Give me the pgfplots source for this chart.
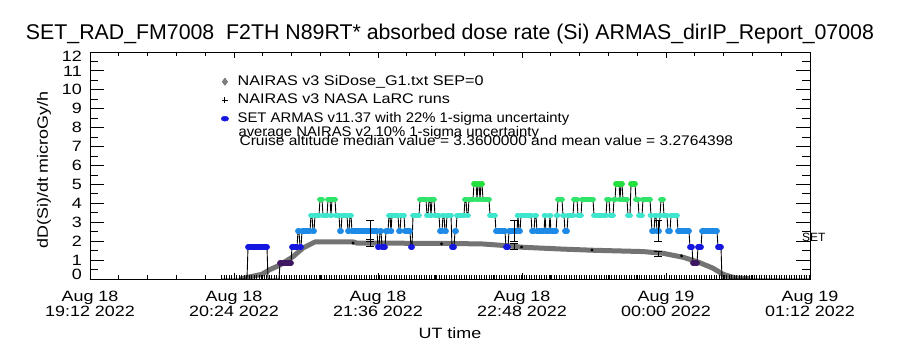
\documentclass[border=0pt]{standalone}
\usepackage{fontspec}
\setmainfont{Liberation Sans}
\newfontfamily\wide{Liberation Sans}[FakeStretch=1.2]
\newfontfamily\legA{Liberation Sans}[FakeStretch=1.16]
\newfontfamily\legB{Liberation Sans}[FakeStretch=1.065]
\newfontfamily\legC{Liberation Sans}[FakeStretch=1.115]
\usepackage{pgfplots}
\pgfplotsset{compat=1.18}
\definecolor{cpurple}{RGB}{62,24,96}
\definecolor{cblue}{RGB}{22,22,225}
\definecolor{clblue}{RGB}{30,138,232}
\definecolor{ccyan}{RGB}{62,230,205}
\definecolor{cgreen}{RGB}{48,228,105}
\definecolor{cgreenb}{RGB}{36,224,62}
\pgfplotsset{
  base/.style={scale only axis, width=720bp, height=227bp, at={(90bp,71bp)}, anchor=south west,
    xmin=0, xmax=360, ymin=0, ymax=12, axis line style={line width=0.9bp, black},
    every tick/.style={black, line width=0.9bp}, unbounded coords=jump},
  blob/.style={forget plot, line width=5.8bp, line cap=round},
}
\begin{document}
\begin{tikzpicture}
\useasboundingbox (0,0) rectangle (900bp,350bp);
\begin{axis}[base, clip mode=individual,
  xtick=\empty,
  ytick={0,1,2,3,4,5,6,7,8,9,10,11,12},
  yticklabels={\raisebox{5bp}[\height][\depth]{0},1,2,3,4,5,6,7,8,9,10,11,\raisebox{-4.7bp}[\height][\depth]{12}},
  minor y tick num=1, major tick length=14bp, minor tick length=8bp,
  yticklabel style={font=\fontsize{15}{15}\wide, inner sep=0pt, xshift=-8bp},
  ylabel={dD(Si)/dt microGy/h},
  ylabel style={at={(axis description cs:-0.0639,0.48)}, anchor=center, font=\fontsize{15}{15}\wide, inner sep=0pt},
  title={SET\_RAD\_FM7008\ \ F2TH N89RT* absorbed dose rate (Si) ARMAS\_dirIP\_Report\_07008},
  title style={at={(0.5,1)}, anchor=base, yshift=7bp, font=\fontsize{21.4}{24}\selectfont, inner sep=0pt},
  legend image code/.code={\draw[#1] plot coordinates {(0bp,0bp)};},
  legend cell align=left,
  legend style={at={(axis description cs:0.1819,0.9009)}, anchor=north west, draw=none, fill=none,
    font=\fontsize{14}{14}\selectfont, inner sep=0pt, column sep=9bp, row sep=4.5bp,
    nodes={inner sep=0pt, text height=10.5bp, text depth=3.5bp}},
]
\addlegendimage{only marks, mark=diamond*, mark size=3.6bp, draw=black!60, fill=black!50, line width=0.4bp}
\addlegendentry{\legA NAIRAS v3 SiDose\_G1.txt SEP=0}
\addlegendimage{only marks, mark=+, mark size=3bp, black, line width=0.9bp}
\addlegendentry{\legA NAIRAS v3 NASA LaRC runs}
\addlegendimage{only marks, mark=*, mark size=2.5bp, mark options={xscale=1.5}, cblue}
\addlegendentry{\legB SET ARMAS v11.37 with 22\% 1-sigma uncertainty}

% NAIRAS v3 SiDose
\addplot[forget plot, black!55, line width=5bp, line join=round] coordinates {
(75,0)(86,0.25)(90,0.5)(95,0.74)(101.5,1.18)(106.5,1.64)(112.5,1.96)(131.5,1.96)(133.5,1.9)
(180,1.88)(196.5,1.85)(208.5,1.76)(216,1.68)(236.5,1.58)(251.5,1.52)(276.5,1.45)(286.5,1.36)
(296.5,1.15)(303.5,0.92)(311.5,0.57)(316.5,0.25)(322.5,0.06)(330,0.02)};

% SET ARMAS connecting line
\addplot[forget plot, black, line width=0.9bp] table {
65.5 0
78.5 0
79 1.68
88.5 1.68
89 0
94.5 0
95 0.84
100.5 0.84
101 1.68
103.5 1.68
104 2.52
104.5 2.52
105 1.68
105.5 1.68
106 2.52
110 2.52
110.5 3.36
111 3.36
111.5 2.52
112 2.52
112.5 3.36
114.5 3.36
115 4.2
116 4.2
116.5 3.36
118.5 3.36
119 4.2
120 4.2
120.5 3.36
121 4.2
122.5 4.2
123 3.36
124.5 3.36
125 2.52
125.5 2.52
126 3.36
128.5 3.36
129 2.52
129.5 2.52
130 3.36
130.5 3.36
131 2.52
143.5 2.52
144 1.68
144.5 1.68
145 2.52
145.5 2.52
146 1.68
147.5 1.68
148 2.52
149 2.52
149.5 3.36
150 3.36
150.5 2.52
151 3.36
154 3.36
154.5 2.52
155 2.52
155.5 3.36
157 3.36
157.5 2.52
160 2.52
160.5 1.68
161 1.68
161.5 3.36
164.5 3.36
165 4.2
168 4.2
168.5 3.36
169 3.36
169.5 4.2
170 4.2
170.5 3.36
171 4.2
172 4.2
172.5 3.36
174.5 3.36
175 2.52
176 2.52
176.5 3.36
177 3.36
177.5 2.52
178 2.52
178.5 3.36
180.5 3.36
181 1.68
182 1.68
182.5 2.52
183 2.52
183.5 3.36
187 3.36
187.5 4.2
188 4.2
188.5 3.36
189 3.36
189.5 4.2
191.5 4.2
192 5.04
193 5.04
193.5 4.2
194 5.04
194.5 5.04
195 4.2
195.5 5.04
196 5.04
196.5 4.2
199.5 4.2
200 3.36
202.5 3.36
203 2.52
207.5 2.52
208 1.68
209 1.68
209.5 2.52
213.5 2.52
214 3.36
214.5 2.52
215 2.52
215.5 3.36
220.5 3.36
221 2.52
222 2.52
222.5 3.36
223 3.36
223.5 2.52
227 2.52
227.5 3.36
228 2.52
229.5 2.52
230 3.36
230.5 2.52
233 2.52
233.5 3.36
234 4.2
236 4.2
236.5 3.36
237 3.36
237.5 2.52
238.5 2.52
239 3.36
241.5 3.36
242 4.2
243.5 4.2
244 3.36
245.5 3.36
246 4.2
251.5 4.2
252 3.36
258 3.36
258.5 4.2
259.5 4.2
260 3.36
261.5 3.36
262 4.2
262.5 4.2
263 5.04
264.5 5.04
265 4.2
265.5 5.04
266 5.04
266.5 4.2
268.5 4.2
269 3.36
270 3.36
270.5 5.04
272.5 5.04
273 4.2
274 4.2
274.5 3.36
276 3.36
276.5 4.2
280 4.2
280.5 3.36
281 2.52
282 2.52
282.5 3.36
283 3.36
283.5 2.52
284.5 2.52
285 3.36
285.5 4.2
286.5 4.2
287 3.36
288.5 3.36
289 2.52
290 2.52
290.5 3.36
293.5 3.36
294 2.52
299.5 2.52
300 1.68
301 1.68
301.5 0.84
303.5 0.84
304 1.68
305.5 1.68
306 2.52
313.5 2.52
314 1.68
315.5 1.68
316 0
360 0
};

% zero-level data row (dense small marks)
\addplot[forget plot, black, line width=3.6bp, dash pattern=on 1.1bp off 1.4bp] coordinates {(65.5,0.12)(359.5,0.12)};

% level 0.84
\addplot[blob, cpurple] coordinates {(95,0.84)(100.5,0.84)(101,nan)(301.5,0.84)(303.5,0.84)};
% level 1.68
\addplot[blob, cblue] coordinates {(79,1.68)(88.5,1.68)(90,nan)(101,1.68)(103.5,1.68)(104,nan)(105,1.68)(105.5,1.68)(106,nan)
(144,1.68)(144.5,1.68)(145,nan)(146,1.68)(147.5,1.68)(148,nan)(160.5,1.68)(161,1.68)(162,nan)(181,1.68)(182,1.68)(183,nan)
(208,1.68)(209,1.68)(210,nan)(300,1.68)(301,1.68)(302,nan)(304,1.68)(305.5,1.68)(306,nan)(314,1.68)(315.5,1.68)};
% level 2.52
\addplot[blob, clblue] coordinates {(104,2.52)(104.5,2.52)(105,nan)(106,2.52)(110,2.52)(111,nan)(111.5,2.52)(112,2.52)(112.3,nan)
(125,2.52)(125.5,2.52)(126,nan)(129,2.52)(129.5,2.52)(130,nan)(131,2.52)(143.5,2.52)(144,nan)(145,2.52)(145.5,2.52)(146,nan)
(148,2.52)(149,2.52)(149.5,nan)(150.3,2.52)(150.7,2.52)(151,nan)(154.5,2.52)(155,2.52)(155.5,nan)(157.5,2.52)(160,2.52)(160.5,nan)
(175,2.52)(176,2.52)(176.5,nan)(177.5,2.52)(178,2.52)(178.5,nan)(182.5,2.52)(183,2.52)(183.5,nan)(203,2.52)(207.5,2.52)(208,nan)
(209.5,2.52)(213.5,2.52)(214,nan)(214.5,2.52)(215,2.52)(215.5,nan)(221,2.52)(222,2.52)(222.5,nan)(223.5,2.52)(227,2.52)(227.5,nan)
(228,2.52)(229.5,2.52)(230,nan)(230.5,2.52)(233,2.52)(233.5,nan)(237.5,2.52)(238.5,2.52)(239,nan)(281,2.52)(282,2.52)(282.5,nan)
(283.5,2.52)(284.5,2.52)(285,nan)(289,2.52)(290,2.52)(290.5,nan)(294,2.52)(299.5,2.52)(300,nan)(306,2.52)(313.5,2.52)};
% level 3.36
\addplot[blob, ccyan] coordinates {(110.5,3.36)(111,3.36)(111.5,nan)(112.5,3.36)(114.5,3.36)(115,nan)(116.5,3.36)(118.5,3.36)(119,nan)
(120.3,3.36)(120.7,3.36)(121,nan)(123,3.36)(124.5,3.36)(125,nan)(126,3.36)(128.5,3.36)(129,nan)(130,3.36)(130.5,3.36)(131,nan)
(149.5,3.36)(150,3.36)(150.2,nan)(151,3.36)(154,3.36)(154.5,nan)(155.5,3.36)(157,3.36)(157.5,nan)(161.5,3.36)(164.5,3.36)(165,nan)
(168.5,3.36)(169,3.36)(169.5,nan)(170.3,3.36)(170.7,3.36)(171,nan)(172.5,3.36)(174.5,3.36)(175,nan)(176.5,3.36)(177,3.36)(177.5,nan)
(178.5,3.36)(180.5,3.36)(181,nan)(183.5,3.36)(187,3.36)(187.5,nan)(188.5,3.36)(189,3.36)(189.5,nan)(200,3.36)(202.5,3.36)(203,nan)
(213.8,3.36)(214.2,3.36)(214.5,nan)(215.5,3.36)(220.5,3.36)(221,nan)(222.5,3.36)(223,3.36)(223.5,nan)(227.3,3.36)(227.7,3.36)(228,nan)
(229.8,3.36)(230.2,3.36)(230.5,nan)(233.3,3.36)(233.7,3.36)(234,nan)(236.5,3.36)(237,3.36)(237.5,nan)(239,3.36)(241.5,3.36)(242,nan)
(244,3.36)(245.5,3.36)(246,nan)(252,3.36)(258,3.36)(258.5,nan)(260,3.36)(261.5,3.36)(262,nan)(269,3.36)(270,3.36)(270.5,nan)
(274.5,3.36)(276,3.36)(276.5,nan)(280.3,3.36)(280.7,3.36)(281,nan)(282.5,3.36)(283,3.36)(283.5,nan)(284.8,3.36)(285.2,3.36)(285.5,nan)
(287,3.36)(288.5,3.36)(289,nan)(290.5,3.36)(293.5,3.36)};
% level 4.2
\addplot[blob, cgreen] coordinates {(115,4.2)(116,4.2)(116.5,nan)(119,4.2)(120,4.2)(120.5,nan)(121,4.2)(122.5,4.2)(123,nan)
(165,4.2)(168,4.2)(168.5,nan)(169.5,4.2)(170,4.2)(170.5,nan)(171,4.2)(172,4.2)(172.5,nan)(187.5,4.2)(188,4.2)(188.5,nan)
(189.5,4.2)(191.5,4.2)(192,nan)(193.3,4.2)(193.7,4.2)(194,nan)(194.8,4.2)(195.2,4.2)(195.5,nan)(196.5,4.2)(199.5,4.2)(200,nan)
(234,4.2)(236,4.2)(236.5,nan)(242,4.2)(243.5,4.2)(244,nan)(246,4.2)(251.5,4.2)(252,nan)(258.5,4.2)(259.5,4.2)(260,nan)
(262,4.2)(262.5,4.2)(263,nan)(264.8,4.2)(265.2,4.2)(265.5,nan)(266.5,4.2)(268.5,4.2)(269,nan)(273,4.2)(274,4.2)(274.5,nan)
(276.5,4.2)(280,4.2)(280.5,nan)(285.5,4.2)(286.5,4.2)};
% level 5.04
\addplot[blob, cgreenb] coordinates {(192,5.04)(193,5.04)(193.5,nan)(194,5.04)(194.5,5.04)(195,nan)(195.5,5.04)(196,5.04)(196.5,nan)
(263,5.04)(264.5,5.04)(265,nan)(265.5,5.04)(266,5.04)(266.5,nan)(270.5,5.04)(272.5,5.04)};

% NAIRAS LaRC runs
\addplot[forget plot, only marks, mark=*, mark size=1.3bp, black] coordinates {(131.5,1.9)(175.8,1.86)(215.8,1.69)(251,1.53)(295.8,1.22)};

% error bars (ARMAS 22%, NAIRAS 10%)
\addplot[forget plot, black, line width=0.9bp] coordinates {
(140,1.97)(140,3.07)(140,nan)(138,3.07)(142,3.07)(142,nan)(138,1.97)(142,1.97)(142.5,nan)
(140,1.71)(140,2.09)(140.1,nan)(138,2.09)(142,2.09)(142.2,nan)(138,1.71)(142,1.71)(142.3,nan)
(212,1.97)(212,3.07)(212.1,nan)(210,3.07)(214,3.07)(214.1,nan)(210,1.97)(214,1.97)(214.2,nan)
(212,1.55)(212,1.89)(212.3,nan)(210,1.89)(214,1.89)(214.3,nan)(210,1.55)(214,1.55)(214.4,nan)
(284,1.97)(284,3.07)(284.1,nan)(282,3.07)(286,3.07)(286.1,nan)(282,1.97)(286,1.97)(286.2,nan)
(284,1.18)(284,1.44)(284.3,nan)(282,1.44)(286,1.44)(286.3,nan)(282,1.18)(286,1.18)};

\node[anchor=base west, inner sep=0pt, font=\fontsize{14}{14}\legB] at (axis description cs:0.206,0.627) {average NAIRAS v2 10\% 1-sigma uncertainty};
\node[anchor=base west, inner sep=0pt, font=\fontsize{14}{14}\legC] at (axis description cs:0.2074,0.587) {Cruise altitude median value = 3.3600000 and mean value = 3.2764398};
\node[anchor=base west, inner sep=0pt, font=\fontsize{12}{12}\selectfont] at (axis cs:356,1.97) {SET};
\end{axis}
\begin{axis}[base,
  ytick=\empty,
  xtick={0,72,144,216,288,360},
  xticklabels={{Aug 18\\19:12 2022},{Aug 18\\20:24 2022},{Aug 18\\21:36 2022},{Aug 18\\22:48 2022},{Aug 19\\00:00 2022},{Aug 19\\01:12 2022}},
  minor x tick num=4, major tick length=6bp, minor tick length=4bp,
  xticklabel style={align=center, anchor=north, inner sep=0pt, yshift=-12bp, font=\fontsize{15}{13}\wide},
  xlabel={UT time},
  xlabel style={at={(axis description cs:0.5,-0.26)}, anchor=base, inner sep=0pt, font=\fontsize{15}{15}\wide},
]
\end{axis}
\end{tikzpicture}
\end{document}
